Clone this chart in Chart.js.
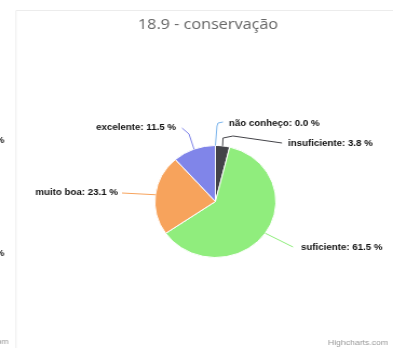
<!DOCTYPE html>
<html>
<head>
<meta charset="utf-8">
<script src="https://cdn.jsdelivr.net/npm/chart.js@4"></script>
<style>
  html, body { margin: 0; padding: 0; background: #fff; overflow: hidden; }
  /* the source screenshot is stretched a bit sideways, so draw narrow and widen */
  #wrap { position: relative; width: 364px; height: 348px; transform: scaleX(1.0797); transform-origin: 0 0; }
</style>
</head>
<body>
<div id="wrap"><canvas id="chart"></canvas></div>
<script>
// data
var categories = ['não conheço', 'insuficiente', 'suficiente', 'muito boa', 'excelente'];
var percents = [0.0, 3.8, 61.5, 23.1, 11.5];
var titleText = '18.9 - conservação';

// highcharts default palette
var sliceColors = ['#7cb5ec', '#434348', '#90ed7d', '#f7a35c', '#8085e9'];

var S = 1.0797; // horizontal stretch, layout below is in screen pixels

// label placement (text anchor + connector bend/end), one per slice
var labelLayout = [
  {tx: 229, ty: 124, align: 'left',  pts: [[217, 126], [218, 123], [223, 122]]},
  {tx: 288, ty: 144, align: 'left',  pts: [[223, 138], [233, 136], [282, 143]]},
  {tx: 301, ty: 248, align: 'left',  pts: [[293, 247]]},
  {tx: 118, ty: 193, align: 'right', pts: [[122, 193]]},
  {tx: 176, ty: 128, align: 'right', pts: [[189, 134], [182, 128]]}
];

var pieLabels = {
  id: 'pieLabels',
  afterDraw: function(chart) {
    var ctx = chart.ctx;
    var meta = chart.getDatasetMeta(0);
    ctx.save();

    // panel frame
    ctx.strokeStyle = '#ececec';
    ctx.lineWidth = 1;
    ctx.beginPath();
    ctx.moveTo(16 / S, 348);
    ctx.lineTo(16 / S, 10.5);
    ctx.lineTo(393, 10.5);
    ctx.stroke();

    // title
    ctx.fillStyle = '#666';
    ctx.font = '15px "Open Sans", sans-serif';
    ctx.textAlign = 'center';
    ctx.textBaseline = 'middle';
    ctx.fillText(titleText, 208 / S, 25);

    meta.data.forEach(function(arc, i) {
      var p = arc.getProps(['x', 'y', 'startAngle', 'endAngle', 'outerRadius'], true);
      var mid = (p.startAngle + p.endAngle) / 2;
      var sx = p.x + Math.cos(mid) * p.outerRadius;
      var sy = p.y + Math.sin(mid) * p.outerRadius;
      var lay = labelLayout[i];

      ctx.strokeStyle = sliceColors[i];
      ctx.lineWidth = 1;
      ctx.beginPath();
      ctx.moveTo(sx, sy);
      lay.pts.forEach(function(q) { ctx.lineTo(q[0] / S, q[1]); });
      ctx.stroke();

      var txt = categories[i] + ': ' + percents[i].toFixed(1) + ' %';
      ctx.font = 'bold 9px "Liberation Sans", Arial, sans-serif';
      ctx.textAlign = lay.align;
      ctx.textBaseline = 'middle';
      ctx.lineWidth = 2;
      ctx.strokeStyle = '#fff';
      ctx.strokeText(txt, lay.tx / S, lay.ty);
      ctx.fillStyle = '#111';
      ctx.fillText(txt, lay.tx / S, lay.ty);
    });

    // cut-off bits of the neighbouring chart on the left edge
    ctx.font = 'bold 9px "Liberation Sans", Arial, sans-serif';
    ctx.textAlign = 'right';
    ctx.fillStyle = '#111';
    ctx.fillText('%', 4, 141);
    ctx.fillText('%', 4, 254);
    ctx.font = '8px "Liberation Sans", Arial, sans-serif';
    ctx.fillStyle = '#999';
    ctx.fillText('com', 8, 342);

    // credit
    ctx.textAlign = 'right';
    ctx.fillText('Highcharts.com', 388 / S, 343);
    ctx.restore();
  }
};

new Chart(document.getElementById('chart'), {
  type: 'pie',
  data: {
    labels: categories,
    datasets: [{
      data: percents,
      backgroundColor: sliceColors,
      borderColor: '#fff',
      borderWidth: 1
    }]
  },
  options: {
    responsive: true,
    maintainAspectRatio: false,
    animation: false,
    layout: { padding: { left: 143, right: 108, top: 145, bottom: 90 } },
    plugins: {
      legend: { display: false },
      tooltip: { enabled: false },
      title: { display: false }
    }
  },
  plugins: [pieLabels]
});
</script>
</body>
</html>
